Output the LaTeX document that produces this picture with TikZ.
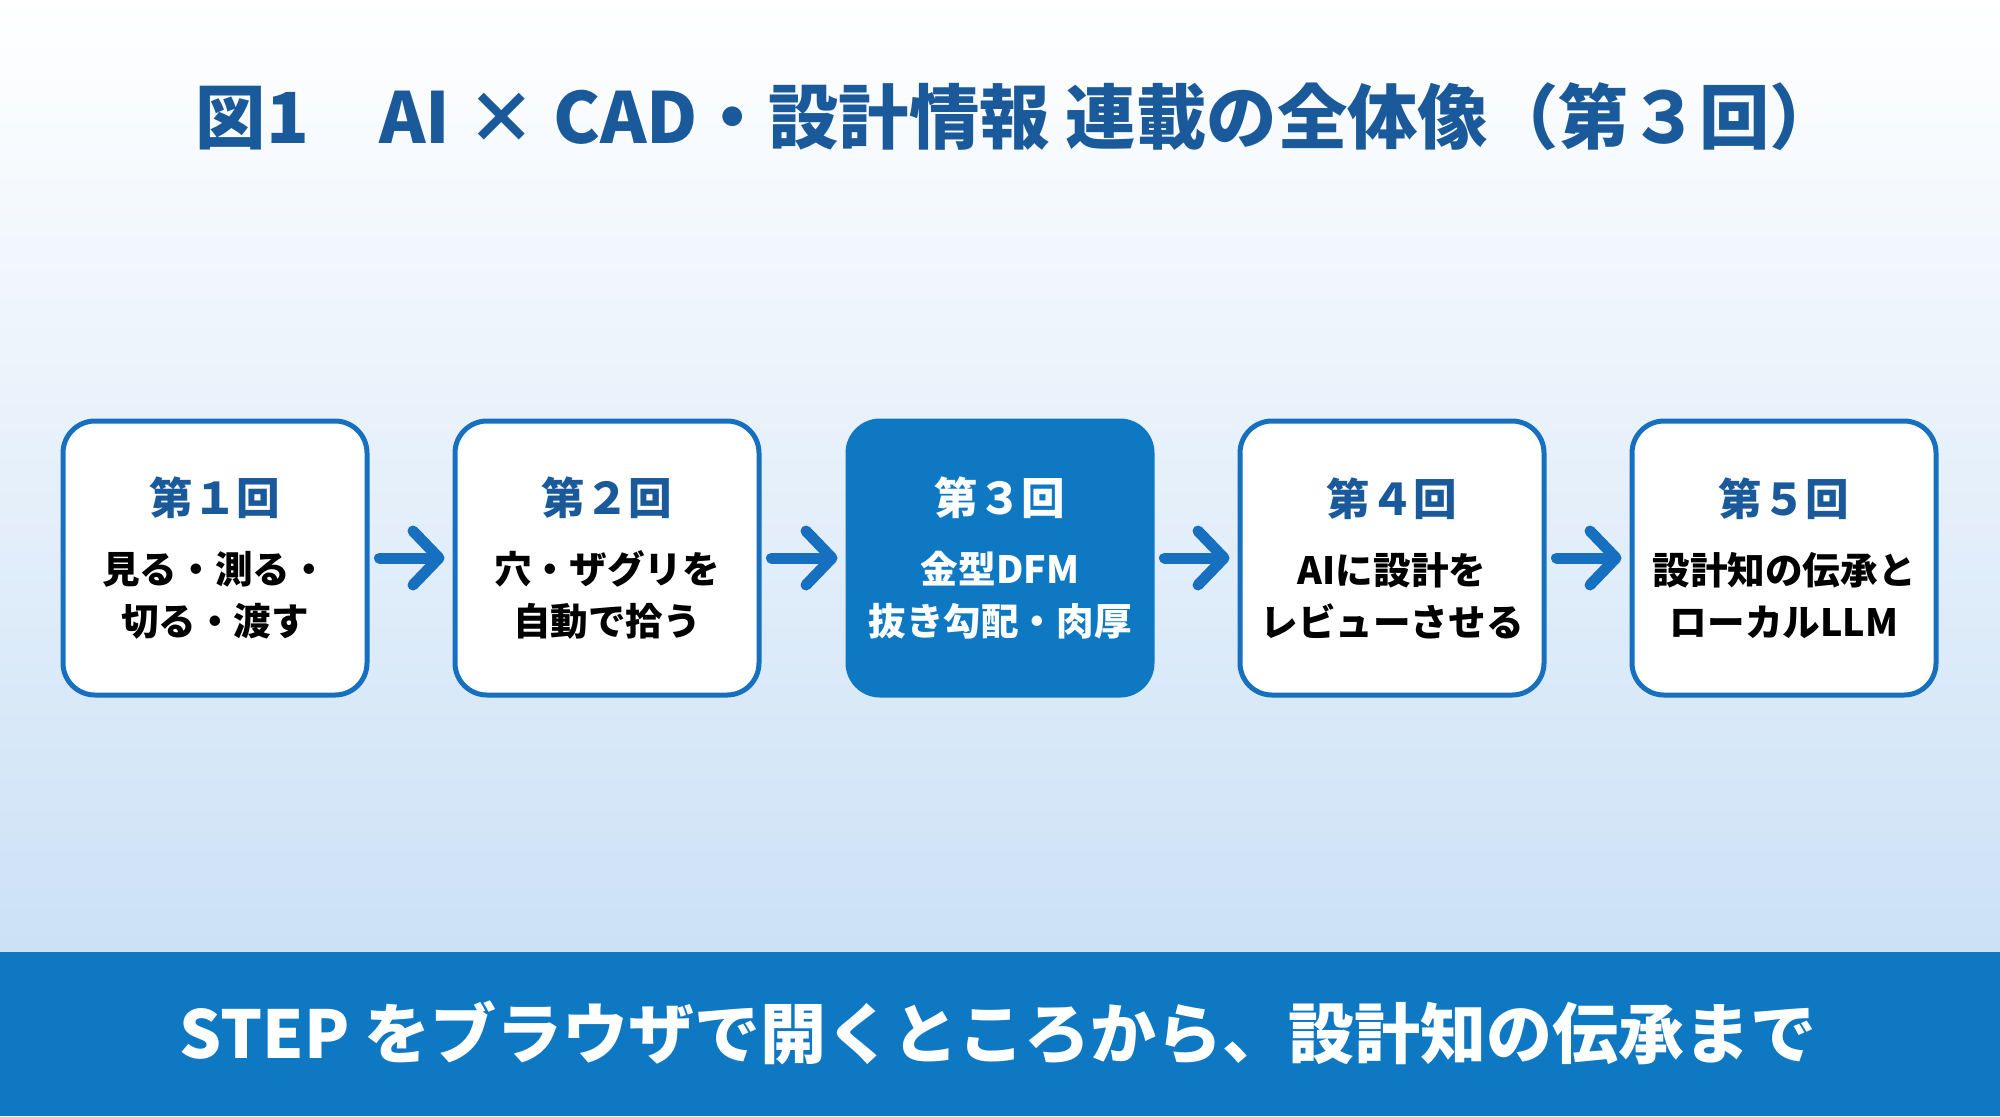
\documentclass[tikz,border=0pt]{standalone}
\usepackage{fontspec}
\setmainfont{Noto Sans CJK JP}
\usetikzlibrary{arrows.meta}
\definecolor{titleblue}{HTML}{1A5A9A}
\definecolor{lineblue}{HTML}{1670BF}
\definecolor{bandblue}{HTML}{0F78C3}
\definecolor{bgblue}{HTML}{CCE1F6}
\tikzset{
  stepbox/.style={draw=lineblue, line width=2.5pt, fill=white, rounded corners=16pt,
    minimum width=152pt, minimum height=137pt, align=center,
    font=\bfseries\fontsize{18.8}{26}\selectfont},
  stepnow/.style={stepbox, draw=bandblue, fill=bandblue, text=white},
  flow/.style={draw=lineblue, line width=5.5pt, line cap=round,
    -{Straight Barb[length=13pt,width=27pt,round]}, shorten <=5pt, shorten >=4pt}
}
\begin{document}
\begin{tikzpicture}[x=0.5pt,y=-0.5pt]
  \useasboundingbox (0,0) rectangle (2000,1116);
  \shade[top color=white, middle color=white!55!bgblue, bottom color=bgblue] (0,0) rectangle (2000,952);
  \fill[bandblue] (0,952) rectangle (2000,1116);
  \node[font=\bfseries\fontsize{35.2}{40}\selectfont, text=titleblue] (title) at (1018,117)
    {図1　AI × CAD・設計情報 連載の全体像（第３回）};
  \foreach \i/\nr/\x/\sty/\hc/\txt in {
      1/１/215/stepbox/titleblue/{見る・測る・\\切る・渡す},
      2/２/607/stepbox/titleblue/{穴・ザグリを\\自動で拾う},
      3/３/1000/stepnow/white/{金型DFM\\抜き勾配・肉厚},
      4/４/1392/stepbox/titleblue/{AIに設計を\\レビューさせる},
      5/５/1784/stepbox/titleblue/{設計知の伝承と\\ローカルLLM}}
    \node[\sty] (b\i) at (\x,558)
      {{\fontsize{21.8}{26}\selectfont\color{\hc}第\nr{}回}\\[8.5pt]\txt};
  \foreach \i/\j in {1/2,2/3,3/4,4/5}
    \draw[flow] (b\i.east) -- (b\j.west);
  \node[font=\bfseries\fontsize{33}{38}\selectfont, text=white] (band) at (998,1033)
    {STEP をブラウザで開くところから、設計知の伝承まで};
\end{tikzpicture}
\end{document}
